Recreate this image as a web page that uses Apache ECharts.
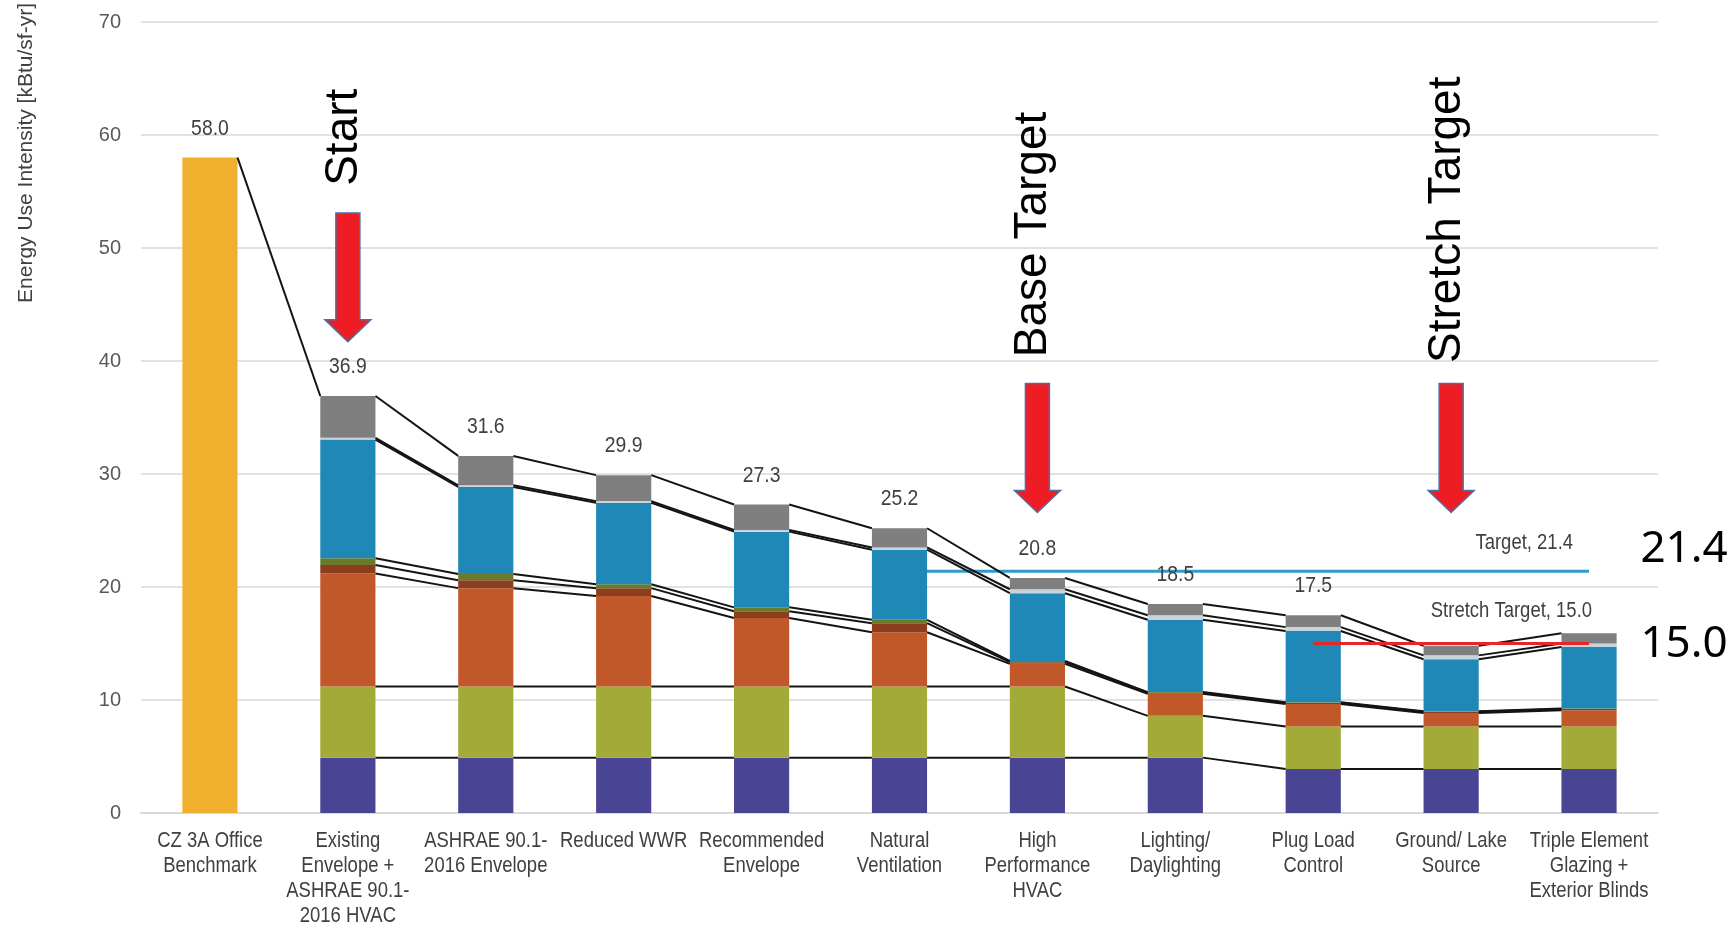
<!DOCTYPE html>
<html>
<head>
<meta charset="utf-8">
<script src="https://cdn.jsdelivr.net/npm/echarts@6/dist/echarts.min.js"></script>
<style>
  html, body { margin: 0; padding: 0; background: #fff; }
  #chart { width: 1728px; height: 929px; }
</style>
</head>
<body>
<div id="chart"></div>
<script>
// Energy use intensity by measure, kBtu/sf-yr
const categories = [
  'CZ 3A Office\nBenchmark',
  'Existing\nEnvelope +\nASHRAE 90.1-\n2016 HVAC',
  'ASHRAE 90.1-\n2016 Envelope',
  'Reduced WWR',
  'Recommended\nEnvelope',
  'Natural\nVentilation',
  'High\nPerformance\nHVAC',
  'Lighting/\nDaylighting',
  'Plug Load\nControl',
  'Ground/ Lake\nSource',
  'Triple Element\nGlazing +\nExterior Blinds'
];

const benchmark = [58.0, '-', '-', '-', '-', '-', '-', '-', '-', '-', '-'];
// end-use layers, bottom to top
const plugLoads = ['-', 4.9, 4.9, 4.9, 4.9, 4.9, 4.9, 4.9, 3.9, 3.9, 3.9];
const lighting  = ['-', 6.3, 6.3, 6.3, 6.3, 6.3, 6.3, 3.7, 3.75, 3.75, 3.75];
const heating   = ['-', 10.0, 8.7, 8.0, 6.05, 4.8, 2.0, 1.95, 2.0, 1.2, 1.45];
const fans      = ['-', 0.75, 0.7, 0.7, 0.6, 0.8, 0.15, 0.1, 0.1, 0.1, 0.1];
const pumps     = ['-', 0.6, 0.55, 0.35, 0.35, 0.3, 0.1, 0.05, 0.05, 0.05, 0.05];
const cooling   = ['-', 10.5, 7.7, 7.2, 6.7, 6.2, 6.0, 6.4, 6.3, 4.6, 5.45];
const hotWater  = ['-', 0.15, 0.15, 0.15, 0.15, 0.2, 0.35, 0.4, 0.35, 0.35, 0.3];
const other     = ['-', 3.7, 2.6, 2.3, 2.25, 1.7, 1.0, 1.0, 1.05, 0.85, 0.9];

// which bars carry a total label
const showTotal = [true, true, true, true, true, true, true, true, true, false, false];

const yTicks = { min: 0, max: 70, interval: 10 };

// EUI goals, drawn from the given category to the last one
const targetEui = 21.4, targetFrom = 5;
const stretchEui = 15.0, stretchFrom = 8;

// milestone call-outs: [category, arrow top, arrow tip, text centre]
const milestones = [[1, 53.1, 41.7, 59.8], [6, 38.0, 26.6, 51.2], [9, 38.0, 26.6, 52.5]];
const milestoneText = ['Start', 'Base Target', 'Stretch Target'];

const layers = [plugLoads, lighting, heating, fans, pumps, cooling, hotWater, other];
const layerNames = ['Plug Loads', 'Lighting', 'Heating', 'Fans', 'Pumps', 'Cooling', 'Hot Water', 'Other'];
const layerColors = ['#4A4494', '#A2AA38', '#C0582A', '#8C3D1E', '#6B7A2A', '#1F88B6', '#C9D3DB', '#7F7F7F'];

const SANS = "'Liberation Sans', Arial, sans-serif";
// horizontal squeeze that gives the small captions a condensed look
const NARROW_SCALE = 0.84;

function stackTops(i) {
  if (benchmark[i] !== '-') return [benchmark[i]];
  let s = 0;
  return layers.map(a => (s += a[i]));
}
function total(i) {
  const t = stackTops(i);
  return t[t.length - 1];
}

const chart = echarts.init(document.getElementById('chart'));

const barSeries = [{
  name: 'Benchmark', type: 'bar', stack: 'eui', barWidth: '40%',
  data: benchmark,
  itemStyle: { color: '#F0B02E' }
}].concat(layers.map((arr, k) => ({
  name: layerNames[k], type: 'bar', stack: 'eui', barWidth: '40%',
  data: arr,
  itemStyle: { color: layerColors[k] }
})));

// lines joining each layer boundary from one bar's right edge to the next bar's left edge
const connectorSeries = {
  type: 'custom', name: 'connectors', z: 4, silent: true,
  data: categories.slice(0, -1).map((_, i) => [i, 0]),
  encode: { x: 0, y: 1 },
  renderItem(params, api) {
    const i = params.dataIndex;
    const half = api.size([1, 0])[0] * 0.2;
    const a = stackTops(i), b = stackTops(i + 1);
    const pairs = i === 0 ? [[a[0], b[b.length - 1]]] : a.map((v, k) => [v, b[k]]);
    return {
      type: 'group',
      children: pairs.map(([va, vb]) => {
        const p1 = api.coord([i, va]);
        const p2 = api.coord([i + 1, vb]);
        return {
          type: 'line',
          shape: { x1: p1[0] + half, y1: p1[1], x2: p2[0] - half, y2: p2[1] },
          style: { stroke: '#141414', lineWidth: 2 }
        };
      })
    };
  }
};

// stack totals above the bars
const totalSeries = {
  type: 'custom', name: 'totals', z: 5, silent: true, clip: false,
  data: categories.map((_, i) => [i, total(i)]).filter((_, i) => showTotal[i]),
  encode: { x: 0, y: 1 },
  renderItem(params, api) {
    const p = api.coord([api.value(0), api.value(1)]);
    return {
      type: 'text', x: p[0], y: p[1] - 29, scaleX: 0.88,
      style: { text: api.value(1).toFixed(1), fontFamily: SANS, fontSize: 22,
               fill: '#404040', align: 'center', verticalAlign: 'middle' }
    };
  }
};

// category captions under the axis
const categoryLabelSeries = {
  type: 'custom', name: 'categoryLabels', z: 5, silent: true, clip: false,
  data: categories.map((_, i) => [i, 0]),
  encode: { x: 0, y: 1 },
  renderItem(params, api) {
    const p = api.coord([api.value(0), 0]);
    return {
      type: 'text', x: p[0], y: p[1] + 15, scaleX: NARROW_SCALE,
      style: { text: categories[params.dataIndex], fontFamily: SANS, fontSize: 22, lineHeight: 25,
               fill: '#404040', align: 'center', verticalAlign: 'top' }
    };
  }
};

function goalSeries(value, from, color, z, caption, capDx, capDy, bigDy) {
  return {
    type: 'custom', z: z, silent: true, clip: false,
    data: [[from, value]],
    encode: { x: 0, y: 1 },
    renderItem(params, api) {
      const p1 = api.coord([from, value]);
      const p2 = api.coord([categories.length - 1, value]);
      return {
        type: 'group',
        children: [
          { type: 'line', shape: { x1: p1[0], y1: p1[1], x2: p2[0], y2: p2[1] },
            style: { stroke: color, lineWidth: 3 } },
          { type: 'text', x: p2[0] + capDx, y: p2[1] + capDy, scaleX: NARROW_SCALE,
            style: { text: caption + ', ' + value.toFixed(1), fontFamily: SANS, fontSize: 22,
                     fill: '#404040', align: 'right', verticalAlign: 'middle' } },
          { type: 'text', x: p2[0] + 95, y: p2[1] + bigDy,
            style: { text: value.toFixed(1), fontFamily: "'Noto Sans', sans-serif", fontSize: 44,
                     fill: '#000', align: 'center', verticalAlign: 'middle' } }
        ]
      };
    }
  };
}

const milestoneSeries = {
  type: 'custom', z: 5, silent: true, clip: false,
  data: milestones,
  encode: { x: 0, y: [1, 2] },
  renderItem(params, api) {
    const cx = api.coord([api.value(0), 0])[0];
    const yTop = api.coord([api.value(0), api.value(1)])[1];
    const yTip = api.coord([api.value(0), api.value(2)])[1];
    const yText = api.coord([api.value(0), api.value(3)])[1];
    const sw = 12, hw = 23, hl = 22;
    return {
      type: 'group',
      children: [
        { type: 'polygon',
          shape: { points: [[cx - sw, yTop], [cx + sw, yTop], [cx + sw, yTip - hl], [cx + hw, yTip - hl],
                            [cx, yTip], [cx - hw, yTip - hl], [cx - sw, yTip - hl]] },
          style: { fill: '#EE1D24', stroke: '#4F6FA3', lineWidth: 1.5 } },
        { type: 'text', x: cx - 4, y: yText, rotation: Math.PI / 2,
          style: { text: milestoneText[params.dataIndex], fontFamily: SANS, fontSize: 46,
                   fill: '#000', align: 'center', verticalAlign: 'middle' } }
      ]
    };
  }
};

chart.setOption({
  animation: false,
  backgroundColor: '#fff',
  grid: { left: 141, right: 70, top: 22, bottom: 116 },
  xAxis: {
    type: 'category', data: categories,
    axisLine: { lineStyle: { color: '#D9D9D9', width: 2 } },
    axisTick: { show: false },
    axisLabel: { show: false }
  },
  yAxis: {
    type: 'value', min: yTicks.min, max: yTicks.max, interval: yTicks.interval,
    axisLine: { show: false }, axisTick: { show: false },
    axisLabel: { margin: 20, fontFamily: SANS, fontSize: 20, color: '#595959' },
    splitLine: { lineStyle: { color: '#D9D9D9', width: 1.5 } }
  },
  graphic: [{
    type: 'text', x: 26, y: 153, rotation: Math.PI / 2,
    style: { text: 'Energy Use Intensity [kBtu/sf-yr]', fontFamily: SANS, fontSize: 21,
             fill: '#404040', align: 'center', verticalAlign: 'middle' }
  }],
  series: barSeries.concat([
    connectorSeries,
    goalSeries(targetEui, targetFrom, '#2E9BCB', 1, 'Target', -16, -28, -22),
    goalSeries(stretchEui, stretchFrom, '#E8262A', 6, 'Stretch Target', 3, -33, 1),
    totalSeries,
    categoryLabelSeries,
    milestoneSeries
  ])
});
</script>
</body>
</html>
